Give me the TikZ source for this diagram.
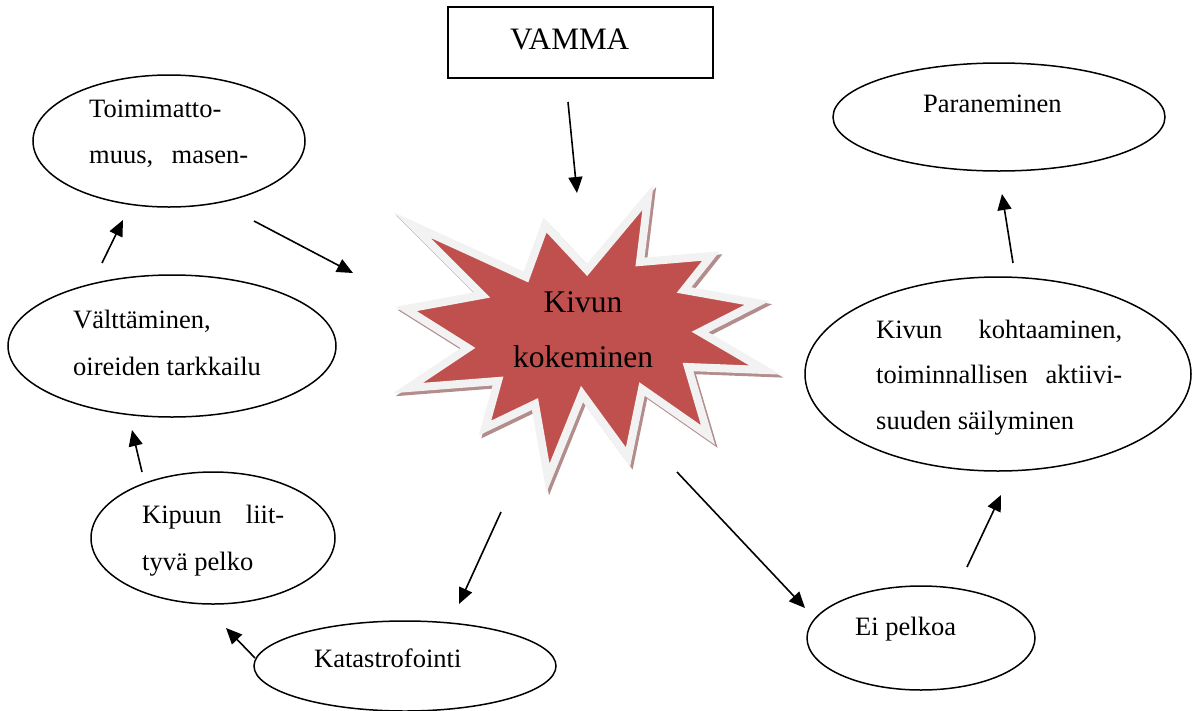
\documentclass[tikz,border=0pt]{standalone}
\usepackage{fontspec}
\setmainfont{Liberation Serif}
\usetikzlibrary{arrows.meta,shapes.geometric,calc}
\definecolor{starred}{HTML}{C0504D}
\definecolor{starrim}{HTML}{F2F2F2}
\definecolor{starshadow}{HTML}{B38C8C}
\tikzset{
  oval/.style={draw, ellipse, line width=1.5pt, inner sep=0pt, outer sep=0pt},
  txt/.style={anchor=base west, inner sep=0pt, font=\fontsize{26.5}{46}\selectfont},
  arr/.style={line width=1.6pt, -{Triangle[length=16pt,width=14pt]}},
  starfill/.style={fill=starred, draw=starrim, line width=8pt, miter limit=25},
  starshade/.style={fill=starshadow, draw=starshadow, line width=8pt, miter limit=25},
}
\begin{document}
\begin{tikzpicture}[x=1pt,y=-1pt]
\useasboundingbox (0,0) rectangle (1192,710);
% star burst
\path[starshade, shift={(2.5,3)}] (412,225) -- (526,277) -- (545,225) -- (587,270) -- (648,197) -- (640,262) -- (711,256) -- (684,290) -- (757,303) -- (700,332) -- (765,370) -- (688,367) -- (708,435) -- (642,389) -- (628,457) -- (582,394) -- (548,478) -- (535,404) -- (485,428) -- (498,381) -- (408,388) -- (468,348) -- (406,309) -- (482,295) -- cycle;
\path[starfill] (412,225) -- (526,277) -- (545,225) -- (587,270) -- (648,197) -- (640,262) -- (711,256) -- (684,290) -- (757,303) -- (700,332) -- (765,370) -- (688,367) -- (708,435) -- (642,389) -- (628,457) -- (582,394) -- (548,478) -- (535,404) -- (485,428) -- (498,381) -- (408,388) -- (468,348) -- (406,309) -- (482,295) -- cycle;
\node[anchor=base, inner sep=0pt, font=\fontsize{31.5}{55}\selectfont] (star) at (583,312)
  {\vtop{\baselineskip=55pt\hbox to 140pt{\hfil Kivun\hfil}\hbox to 140pt{\hfil kokeminen\hfil}}};

% VAMMA box
\node[draw, line width=2pt, minimum width=265pt, minimum height=71pt, inner sep=0pt] (vamma) at (580.5,42.5) {};
\node[anchor=base west, inner sep=0pt, font=\fontsize{31.2}{40}\selectfont] (vammaT) at (510,49) {VAMMA};

% ellipses
\node[oval, minimum width=272pt, minimum height=132pt] (toim) at (169,141) {};
\node[oval, minimum width=328pt, minimum height=142pt] (valt) at (172,346) {};
\node[oval, minimum width=244pt, minimum height=132pt] (kipu) at (213,538) {};
\node[oval, minimum width=302pt, minimum height=90pt] (kata) at (405,666) {};
\node[oval, minimum width=228pt, minimum height=104pt] (eip) at (921,638) {};
\node[oval, minimum width=386pt, minimum height=194pt] (kohta) at (998,374) {};
\node[oval, minimum width=332pt, minimum height=108pt] (para) at (999,117) {};

% texts
\node[txt] (toimT) at (89,117) {\vtop{\baselineskip=46pt\hbox{Toimimatto-}\hbox to 159pt{muus,\hfill masen-}}};
\node[txt] (valtT) at (73,328) {\vtop{\baselineskip=47pt\hbox{Välttäminen,}\hbox{oireiden tarkkailu}}};
\node[txt] (kipuT) at (142,523) {\vtop{\baselineskip=47pt\hbox to 142pt{Kipuun\hfill liit-}\hbox{tyvä pelko}}};
\node[txt] (kataT) at (314,667) {Katastrofointi};
\node[txt] (eipT) at (855,635) {Ei pelkoa};
\node[txt] (kohtaT) at (876,338) {\vtop{\baselineskip=45.5pt\hbox to 246pt{Kivun\hfill kohtaaminen,}\hbox to 246pt{toiminnallisen\hfill aktiivi-}\hbox{suuden säilyminen}}};
\node[txt] (paraT) at (923,112) {Paraneminen};

% connectors
\draw[arr] ($(vamma.center)+(-12.5,59.5)$) -- ($(star.base)+(-6,-119)$);
\draw[arr] ($(toim.center)+(85,80)$) -- ($(star.base)+(-230,-39)$);
\draw[arr] ($(valt.center)+(-70,-83)$) -- ($(toim.center)+(-46,79)$);
\draw[arr] ($(kipu.center)+(-71,-66)$) -- ($(valt.center)+(-40,84)$);
\draw[arr] ($(kata.center)+(-150,-8)$) -- ($(kipu.center)+(13,90)$);
\draw[arr] ($(star.base)+(-82,200)$) -- ($(kata.center)+(54,-62)$);
\draw[arr] ($(star.base)+(94,160)$) -- ($(eip.center)+(-116,-30)$);
\draw[arr] ($(eip.center)+(46,-71)$) -- ($(kohta.center)+(3,121)$);
\draw[arr] ($(kohta.center)+(15,-111)$) -- ($(para.center)+(3,77)$);
\end{tikzpicture}
\end{document}
